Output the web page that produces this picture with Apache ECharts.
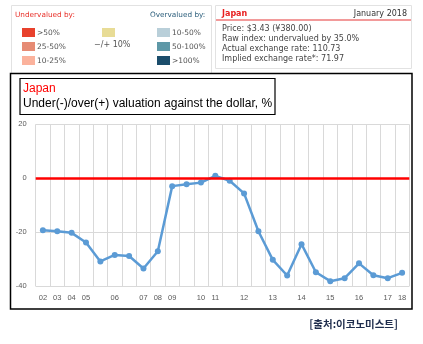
<!DOCTYPE html>
<html>
<head>
<meta charset="utf-8">
<script src="https://cdn.jsdelivr.net/npm/echarts@6/dist/echarts.min.js"></script>
<style>
  html, body { margin: 0; padding: 0; background: #fff; }
  #chart { width: 423px; height: 344px; }
</style>
</head>
<body>
<div id="chart"></div>
<script>
// Survey periods (year labels shown under the axis; blank = mid-year survey)
var periodLabels = ['02','03','04','05','','06','','07','08','09','','10','11','','12','','13','','14','','15','','16','','17','18'];

// Japan: under(-)/over(+) valuation against the dollar, %
var valuation = [-19.2,-19.6,-20.2,-23.8,-30.8,-28.4,-28.8,-33.4,-27.0,-2.9,-2.2,-1.6,0.9,-0.9,-5.6,-19.6,-30.2,-36.0,-24.4,-34.8,-38.1,-37.0,-31.5,-35.9,-37.0,-35.0];

var yTicks = { min: -40, max: 20, step: 20 };

var chart = echarts.init(document.getElementById('chart'), null, { renderer: 'canvas' });

var hdrFont = 'DejaVu Sans, Verdana, sans-serif';
var chartFont = 'Liberation Sans, Arial, sans-serif';

function swatch(x, y, color) {
  return { type: 'rect', shape: { x: x, y: y, width: 13, height: 9 }, style: { fill: color } };
}
function txt(x, y, s, opt) {
  opt = opt || {};
  return {
    type: 'text', x: x, y: y,
    style: {
      text: s, fill: opt.color || '#555', font: (opt.weight || 'normal') + ' ' + (opt.size || 7.5) + 'px ' + (opt.family || hdrFont),
      textAlign: opt.align || 'left', textVerticalAlign: 'middle'
    }
  };
}

var graphics = [
  // header frames
  { type: 'rect', shape: { x: 11.5, y: 5.5, width: 200, height: 68 }, style: { fill: 'none', stroke: '#e2e2e2', lineWidth: 1 } },
  { type: 'rect', shape: { x: 215.5, y: 5.5, width: 196, height: 63 }, style: { fill: 'none', stroke: '#e2e2e2', lineWidth: 1 } },
  // legend of the valuation colour scale
  txt(15, 15, 'Undervalued by:', { color: '#e8312a', size: 7.3 }),
  txt(150, 15, 'Overvalued by:', { color: '#2d5f7c', size: 7.3 }),
  swatch(22, 28, '#e8412c'), txt(37, 33, '>50%'),
  swatch(22, 42, '#e68b74'), txt(37, 47, '25-50%'),
  swatch(22, 56, '#fbb29c'), txt(37, 61, '10-25%'),
  swatch(102, 28, '#e8dc96'), txt(94, 45, '\u2212/+ 10%', { size: 8 }),
  swatch(157, 28, '#b9cfd9'), txt(172, 33, '10-50%'),
  swatch(157, 42, '#5e98a7'), txt(172, 47, '50-100%'),
  swatch(157, 56, '#1b4d6b'), txt(172, 61, '>100%'),
  // country summary panel
  txt(222, 13.5, 'Japan', { color: '#e81e1e', weight: 'bold', size: 8 }),
  txt(407, 13.5, 'January 2018', { color: '#333', size: 8, align: 'right' }),
  { type: 'line', shape: { x1: 216, y1: 20, x2: 411, y2: 20 }, style: { stroke: '#f29a9a', lineWidth: 2 } },
  txt(222, 29, 'Price: $3.43 (\u00a5380.00)', { color: '#444', size: 8 }),
  txt(222, 39, 'Raw index: undervalued by 35.0%', { color: '#444', size: 8 }),
  txt(222, 49, 'Actual exchange rate: 110.73', { color: '#444', size: 8 }),
  txt(222, 59, 'Implied exchange rate*: 71.97', { color: '#444', size: 8 }),
  // chart frame
  { type: 'rect', shape: { x: 10.5, y: 73.5, width: 401.5, height: 235.5 }, style: { fill: 'none', stroke: '#000', lineWidth: 1.5 } },
  // title box
  { type: 'rect', shape: { x: 20, y: 78.5, width: 255, height: 36 }, style: { fill: 'none', stroke: '#000', lineWidth: 1.2 } },
  txt(23, 89, 'Japan', { color: '#ff0000', size: 12, family: chartFont }),
  txt(23, 104, 'Under(-)/over(+) valuation against the dollar, %', { color: '#000', size: 12, family: chartFont }),
  // source note
  txt(398, 324, '[\ucd9c\ucc98:\uc774\ucf54\ub178\ubbf8\uc2a4\ud2b8]', { color: '#1f2d4d', size: 10.5, weight: 'bold', align: 'right', family: 'Noto Sans CJK KR, sans-serif' })
];

chart.setOption({
  animation: false,
  backgroundColor: '#fff',
  graphic: graphics,
  grid: { left: 35.7, right: 13.7, top: 124.3, bottom: 57.7 },
  xAxis: {
    type: 'category',
    data: periodLabels,
    boundaryGap: true,
    axisLine: { show: false },
    axisTick: { show: false },
    axisLabel: { interval: 0, color: '#595959', fontSize: 7.5, fontFamily: chartFont, margin: 8 },
    splitLine: { show: true, interval: 0, lineStyle: { color: '#d9d9d9', width: 1 } }
  },
  yAxis: {
    type: 'value',
    min: yTicks.min, max: yTicks.max, interval: yTicks.step,
    axisLine: { show: false },
    axisTick: { show: false },
    axisLabel: { color: '#595959', fontSize: 7.5, fontFamily: chartFont, margin: 9 },
    splitLine: { lineStyle: { color: '#d9d9d9', width: 1 } }
  },
  series: [
    {
      type: 'line', data: [], z: 1, silent: true,
      markLine: {
        symbol: 'none', silent: true, label: { show: false },
        lineStyle: { color: '#ff0000', width: 2.5, type: 'solid' },
        data: [{ yAxis: 0 }]
      }
    },
    {
      type: 'line', data: valuation, z: 3,
      symbol: 'circle', symbolSize: 6,
      lineStyle: { color: '#5b9bd5', width: 2.5 },
      itemStyle: { color: '#5b9bd5' }
    }
  ]
});
</script>
</body>
</html>
